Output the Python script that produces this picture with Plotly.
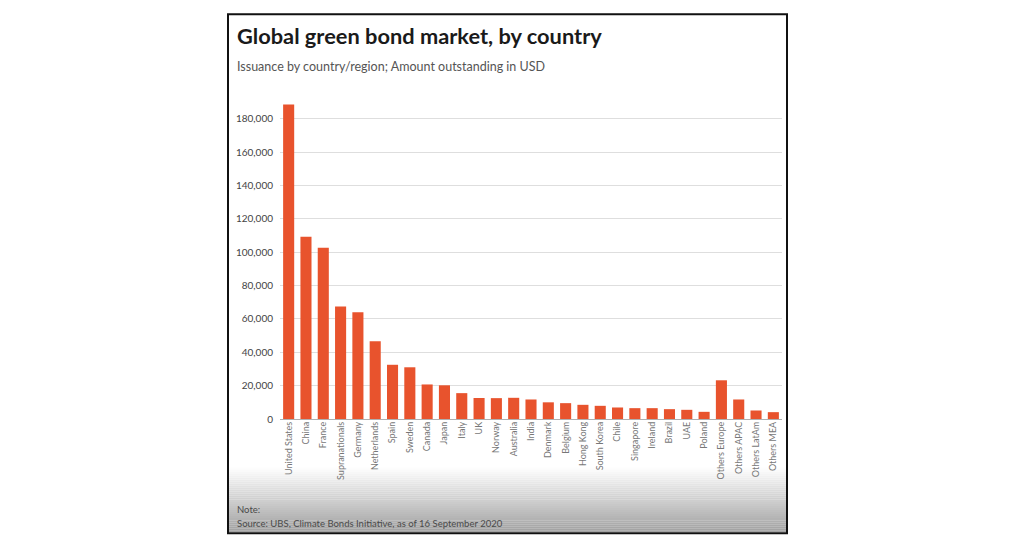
import plotly.graph_objects as go

countries = ["United States", "China", "France", "Supranationals", "Germany", "Netherlands",
             "Spain", "Sweden", "Canada", "Japan", "Italy", "UK", "Norway", "Australia",
             "India", "Denmark", "Belgium", "Hong Kong", "South Korea", "Chile", "Singapore",
             "Ireland", "Brazil", "UAE", "Poland", "Others Europe", "Others APAC",
             "Others LatAm", "Others MEA"]
amount_usd = [188500, 109300, 102700, 67500, 64000, 46600, 32500, 31000, 20700, 20200,
              15500, 12600, 12500, 12700, 11700, 10000, 9500, 8500, 7900, 6900, 6500,
              6500, 5900, 5500, 4300, 23200, 11700, 5100, 4100]
y_ticks = [0, 20000, 40000, 60000, 80000, 100000, 120000, 140000, 160000, 180000]

# page is offset by the 8px body margin
OFF = 8
W, H = 1024 - OFF, 536 - OFF
ML = 280 - OFF
MT = 102 - OFF
MR = W - (782 - OFF)
MB = H - (419.5 - OFF)
PW, PH = W - ML - MR, H - MT - MB

def px(x):
    return (x - OFF - ML) / PW

def py(y):
    return (H - MB - (y - OFF)) / PH

FONT = "Source Sans Pro, Lato, Noto Sans, sans-serif"

fig = go.Figure(go.Bar(x=countries, y=amount_usd, marker_color="#e8532d",
                       marker_line_width=0, width=0.64))

shapes = []
# bottom gradient
g0, g1 = 468, 533
n = 32
for i in range(n):
    ya = g0 + (g1 - g0) * i / n
    yb = g0 + (g1 - g0) * (i + 1) / n
    t = (i + 0.5) / n
    c = int(255 - t * 95)
    shapes.append(dict(type="rect", xref="paper", yref="paper",
                       x0=px(229), x1=px(786), y0=py(yb), y1=py(ya),
                       fillcolor=f"rgb({c},{c},{c})", line_width=0, layer="below"))
# frame
shapes.append(dict(type="rect", xref="paper", yref="paper",
                   x0=px(228), x1=px(787), y0=py(534), y1=py(14),
                   line=dict(color="#111", width=2), fillcolor="rgba(0,0,0,0)", layer="above"))

annotations = [
    dict(text="<b>Global green bond market, by country</b>", x=px(235), y=py(35),
         xref="paper", yref="paper", xanchor="left", yanchor="middle", showarrow=False,
         font=dict(family=FONT, size=21.8, color="#1a1a1a")),
    dict(text="Issuance by country/region; Amount outstanding in USD", x=px(235), y=py(66),
         xref="paper", yref="paper", xanchor="left", yanchor="middle", showarrow=False,
         font=dict(family=FONT, size=12.5, color="#555")),
    dict(text="Note:", x=px(235), y=py(510),
         xref="paper", yref="paper", xanchor="left", yanchor="middle", showarrow=False,
         font=dict(family=FONT, size=9.5, color="#4a4a4a")),
    dict(text="Source: UBS, Climate Bonds Initiative, as of 16 September 2020", x=px(235), y=py(524),
         xref="paper", yref="paper", xanchor="left", yanchor="middle", showarrow=False,
         font=dict(family=FONT, size=9.5, color="#4a4a4a")),
]

fig.update_layout(
    width=W, height=H,
    margin=dict(l=ML, r=MR, t=MT, b=MB, pad=0),
    paper_bgcolor="white", plot_bgcolor="rgba(0,0,0,0)",
    showlegend=False, bargap=0.36,
    shapes=shapes, annotations=annotations,
    font=dict(family=FONT),
)
fig.update_xaxes(tickangle=-90, tickfont=dict(family=FONT, size=9, color="#777"),
                 showgrid=False, showline=False, ticks="", automargin=False)
fig.update_yaxes(range=[0, 190000], tickvals=y_ticks, tickformat=",",
                 tickfont=dict(family=FONT, size=10, color="#444"),
                 showgrid=True, gridcolor="#dedede", gridwidth=1,
                 zeroline=True, zerolinecolor="#b0b0b0", zerolinewidth=1,
                 ticks="outside", ticklen=4, tickcolor="rgba(0,0,0,0)", automargin=False)

fig.write_html("out.html")
